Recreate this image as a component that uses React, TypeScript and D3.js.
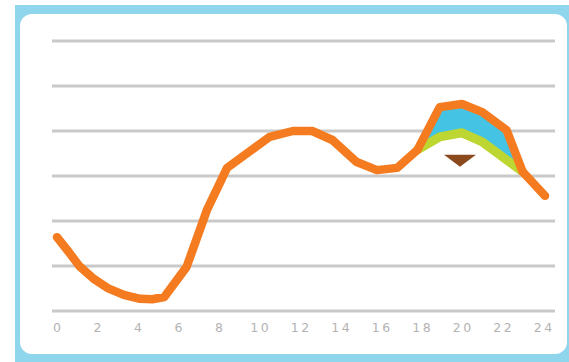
import React from "react";
import * as d3 from "d3";

const W = 569;
const H = 362;

// Hourly load curve (hours, relative units 0..6)
const hours = [0, 0.6, 1.1, 1.8, 2.5, 3.3, 4.1, 4.7, 5.3, 6.4, 7.4, 8.4, 10.5, 11.65, 12.6, 13.6, 14.8, 15.8, 16.8, 17.8, 18.9, 20.0, 21.0, 22.2, 23.0, 24.1];
const loadValues = [1.64, 1.3, 1.0, 0.72, 0.51, 0.36, 0.27, 0.26, 0.31, 0.98, 2.24, 3.18, 3.87, 4.0, 4.0, 3.8, 3.31, 3.13, 3.18, 3.58, 4.53, 4.6, 4.42, 4.02, 3.09, 2.56];

// Peak window: upper (orange) and reduced (green) curves
const peakHours = [17.8, 18.9, 20.0, 21.0, 22.2, 23.0];
const peakUpper = [3.58, 4.53, 4.6, 4.42, 4.02, 3.09];
const peakReduced = [3.58, 3.87, 3.96, 3.76, 3.36, 3.09];

// Reduction marker
const markerHour = 19.9;
const markerValue = 3.47;

const gridValues = [0, 1, 2, 3, 4, 5, 6];
const tickLabels = [0, 2, 4, 6, 8, 10, 12, 14, 16, 18, 20, 22, 24];

const ORANGE = "#f47b20";
const BLUE = "#45c3e4";
const GREEN = "#bdd631";
const BROWN = "#8b4a1e";
const FRAME = "#8fd6ec";

export default function App() {
  const x = d3.scaleLinear().domain([0, 24]).range([57, 543]);
  const y = d3.scaleLinear().domain([0, 6]).range([311, 41]);

  const loadData = hours.map((h, i) => [h, loadValues[i]] as [number, number]);
  const line = d3
    .line<[number, number]>()
    .x((d) => x(d[0]))
    .y((d) => y(d[1]))
    .curve(d3.curveLinear);

  const peakIdx = peakHours.map((_, i) => i);
  const area = d3
    .area<number>()
    .x((i) => x(peakHours[i]))
    .y0((i) => y(peakReduced[i]))
    .y1((i) => y(peakUpper[i]))
    .curve(d3.curveLinear);
  const greenLine = d3
    .line<number>()
    .x((i) => x(peakHours[i]))
    .y((i) => y(peakReduced[i]))
    .curve(d3.curveLinear);

  const mx = x(markerHour);
  const my = y(markerValue);

  return (
    <svg width={W} height={H} style={{ position: "absolute", left: 0, top: 0 }}>
      <rect x={0} y={0} width={W} height={H} fill="#ffffff" />
      <rect x={15} y={5} width={W - 15} height={H - 5} fill={FRAME} />
      <rect x={20} y={14} width={547} height={340} rx={12} ry={12} fill="#ffffff" />
      {gridValues.map((g) => (
        <line key={g} x1={52} x2={555} y1={y(g)} y2={y(g)} stroke="#c9c9c9" strokeWidth={3} />
      ))}
      {tickLabels.map((t) => (
        <text
          key={t}
          x={x(t) + 1.3}
          y={332}
          textAnchor="middle"
          fontFamily="DejaVu Sans, sans-serif"
          fontSize={12.5}
          letterSpacing={2.6}
          fill="#b3b3b3"
        >
          {t}
        </text>
      ))}
      <path d={area(peakIdx) || ""} fill={BLUE} />
      <path
        d={greenLine(peakIdx) || ""}
        fill="none"
        stroke={GREEN}
        strokeWidth={9}
        strokeLinejoin="round"
        strokeLinecap="round"
      />
      <path
        d={line(loadData) || ""}
        fill="none"
        stroke={ORANGE}
        strokeWidth={8.5}
        strokeLinejoin="round"
        strokeLinecap="round"
      />
      <path d={`M${mx - 16},${my} L${mx + 16},${my} L${mx},${my + 12} Z`} fill={BROWN} />
    </svg>
  );
}
